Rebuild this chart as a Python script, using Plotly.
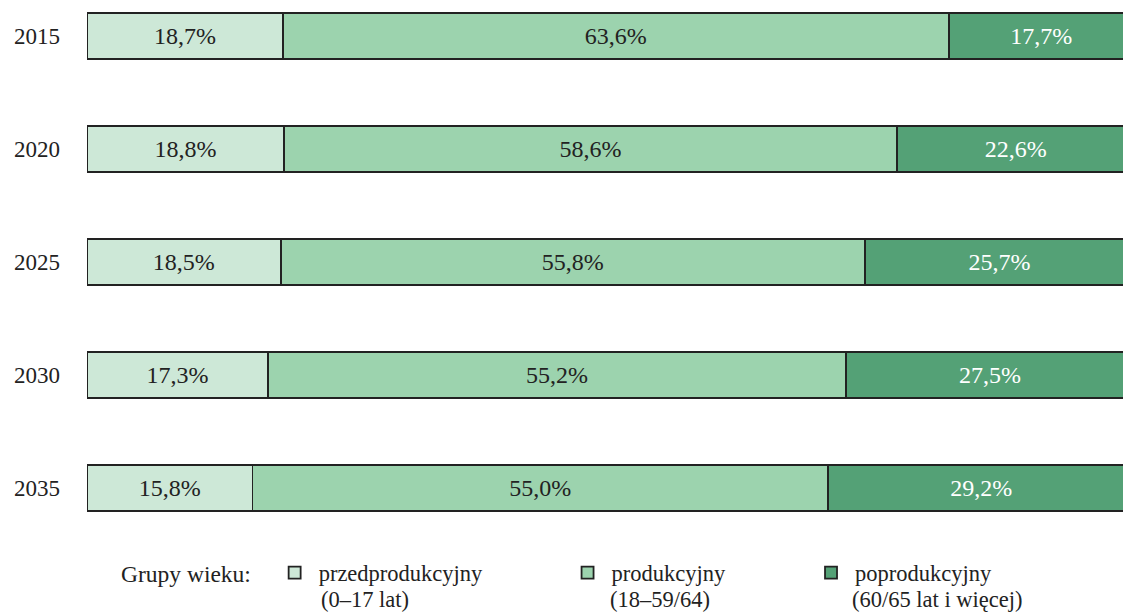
import plotly.graph_objects as go

years = ["2015", "2020", "2025", "2030", "2035"]
pre = [18.7, 18.8, 18.5, 17.3, 15.8]
prod = [63.6, 58.6, 55.8, 55.2, 55.0]
post = [17.7, 22.6, 25.7, 27.5, 29.2]

group_names = ["przedprodukcyjny", "produkcyjny", "poprodukcyjny"]
group_ranges = ["(0–17 lat)", "(18–59/64)", "(60/65 lat i więcej)"]
legend_title = "Grupy wieku:"

colors = ["#cde8d7", "#9cd3ae", "#54a176"]
textcolors = ["#222222", "#222222", "#ffffff"]
legends = ["legend", "legend2", "legend3"]

FONT = "Liberation Serif, Times New Roman, serif"

def fmt(v):
    return f"{v:.1f}".replace(".", ",") + "%"

fig = go.Figure()
for vals, name, col, tc, lg in zip([pre, prod, post], group_names, colors, textcolors, legends):
    fig.add_trace(go.Bar(
        y=years, x=vals, orientation="h", name=name,
        marker=dict(color=col, line=dict(color="#222222", width=1.8)),
        text=[fmt(v) for v in vals], textposition="inside", insidetextanchor="middle",
        textfont=dict(family=FONT, size=24, color=tc),
        width=0.407, legend=lg, hoverinfo="skip",
    ))

leg_y = 1 - 573 / 614
leg_common = dict(orientation="h", yanchor="middle", y=leg_y, xanchor="left",
                  font=dict(family=FONT, size=22.5, color="#222222"),
                  itemwidth=38, bgcolor="rgba(0,0,0,0)")

# second lines of the legend entries
text_x_px = [320, 609, 851]
annotations = []
for txt, px in zip(group_ranges, text_x_px):
    annotations.append(dict(
        text=txt, x=(px - 87) / 1036, y=1 - 599 / 614, xref="paper", yref="paper",
        xanchor="left", yanchor="middle", showarrow=False, borderpad=0,
        font=dict(family=FONT, size=22.5, color="#222222"),
    ))

fig.update_layout(
    width=1123, height=614,
    barmode="stack",
    plot_bgcolor="white", paper_bgcolor="white",
    margin=dict(l=87, r=0, t=0, b=0),
    font=dict(family=FONT, size=24, color="#222222"),
    xaxis=dict(range=[0, 98.95], visible=False, fixedrange=True),
    yaxis=dict(range=[5.115, -0.3186], showgrid=False, showline=False, ticks="",
               ticklabelstandoff=26, fixedrange=True,
               tickfont=dict(family=FONT, size=23, color="#222222")),
    uniformtext=dict(mode="show", minsize=10),
    legend=dict(**leg_common, x=(119 - 87) / 1036,
                title=dict(text=legend_title + "\u00a0\u00a0", side="left",
                           font=dict(family=FONT, size=23.5, color="#222222"))),
    legend2=dict(**leg_common, x=0.46),
    legend3=dict(**leg_common, x=0.695),
    annotations=annotations,
    showlegend=True,
)
fig.write_html("out.html", config={"displayModeBar": False},
               post_script="document.body.style.margin='0';document.body.style.padding='0';")
